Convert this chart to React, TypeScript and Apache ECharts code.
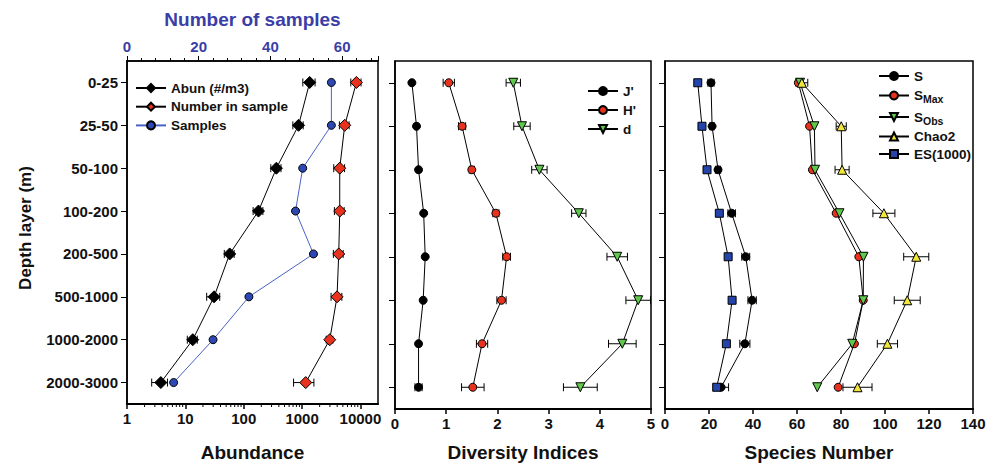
import React, { useEffect, useRef } from "react";
import * as echarts from "echarts";

const depthLayers = ["0-25", "25-50", "50-100", "100-200", "200-500", "500-1000", "1000-2000", "2000-3000"];

// Panel 1
const abundance = [1350, 870, 363, 179, 57.5, 31, 13.4, 3.8];
const abundanceErr = [320, 175, 72, 34, 11, 7.8, 2.6, 1.15];
const numberInSample = [8540, 5380, 4420, 4420, 4250, 3970, 2980, 1155];
const numberInSampleErr = [1700, 1020, 930, 840, 810, 830, 390, 440];
const samples = [57, 57, 49, 47, 52, 34, 24, 13];
const abundanceMinorTicks = [2, 3, 4, 5, 6, 7, 8, 9, 20, 30, 40, 50, 60, 70, 80, 90, 200, 300, 400, 500, 600, 700, 800, 900, 2000, 3000, 4000, 5000, 6000, 7000, 8000, 9000];

// Panel 2
const evenness = [0.33, 0.42, 0.46, 0.56, 0.59, 0.55, 0.46, 0.46];
const evennessErr = [0.02, 0.02, 0.02, 0.02, 0.02, 0.02, 0.02, 0.07];
const shannon = [1.05, 1.31, 1.5, 1.97, 2.18, 2.08, 1.7, 1.52];
const shannonErr = [0.11, 0.07, 0.05, 0.06, 0.075, 0.09, 0.11, 0.22];
const margalef = [2.31, 2.48, 2.82, 3.59, 4.34, 4.75, 4.44, 3.62];
const margalefErr = [0.14, 0.16, 0.15, 0.14, 0.2, 0.24, 0.27, 0.33];

// Panel 3
const speciesS = [20.9, 21.4, 24.1, 30.3, 36.7, 39.6, 36.3, 25.5];
const speciesSErr = [1.4, 1.0, 1.2, 1.7, 1.8, 1.9, 2.3, 3.4];
const sMax = [60.6, 65.7, 67.0, 77.8, 88.1, 90.1, 86.1, 78.7];
const sObs = [61.4, 67.9, 68.2, 79.3, 90.2, 90.1, 85.1, 69.2];
const chao2 = [62.2, 80.1, 80.5, 99.5, 114.2, 110.1, 101.1, 87.5];
const chao2Err = [2.7, 2.3, 3.2, 5.0, 5.7, 5.9, 4.6, 6.6];
const es1000 = [14.9, 16.8, 19.1, 24.7, 28.7, 30.5, 27.9, 23.5];

const FONT = "'Liberation Sans', Arial, Helvetica, sans-serif";
const INK = "#111";
const TITLE_BLUE = "#3a3ea6";
const RED = "#e8321e";
const GREEN = "#5ec94a";
const YELLOW = "#f2e63a";
const BLUE_DOT = "#2d48b5";
const BLUE_SQ = "#2444ab";

function errorSeries(xi: number, yi: number, vals: number[], errs: number[]) {
  return {
    type: "custom",
    xAxisIndex: xi,
    yAxisIndex: yi,
    silent: true,
    z: 1,
    encode: { x: 0, y: 1 },
    data: vals.map((v, i) => [v, i, errs[i]]),
    renderItem: (params: any, api: any) => {
      const v = api.value(0);
      const c = api.value(1);
      const e = api.value(2);
      const lo = api.coord([v - e, c]);
      const hi = api.coord([v + e, c]);
      const h = 4;
      const st = { stroke: "#000", lineWidth: 1 };
      return {
        type: "group",
        children: [
          { type: "line", shape: { x1: lo[0], y1: lo[1], x2: hi[0], y2: hi[1] }, style: st },
          { type: "line", shape: { x1: lo[0], y1: lo[1] - h, x2: lo[0], y2: lo[1] + h }, style: st },
          { type: "line", shape: { x1: hi[0], y1: hi[1] - h, x2: hi[0], y2: hi[1] + h }, style: st },
        ],
      };
    },
  };
}

function lineSeries(name: string, xi: number, yi: number, vals: number[], symbol: string, size: number, color: string, lineColor = "#000", rotate = 0) {
  return {
    name,
    type: "line",
    xAxisIndex: xi,
    yAxisIndex: yi,
    data: vals.map((v, i) => [v, i]),
    symbol,
    symbolSize: size,
    symbolRotate: rotate,
    showSymbol: true,
    z: 3,
    itemStyle: { color, borderColor: "#000", borderWidth: 1 },
    lineStyle: { color: lineColor, width: 1 },
  };
}

const axisLabelStyle = { fontSize: 15, fontWeight: "bold" as const, color: INK, fontFamily: FONT };

function bottomAxis(gridIndex: number, extra: any) {
  return {
    gridIndex,
    position: "bottom",
    nameLocation: "middle",
    nameTextStyle: { fontSize: 19, fontWeight: "bold", color: INK, fontFamily: FONT },
    axisLine: { show: true, onZero: false, lineStyle: { color: "#000", width: 2 } },
    axisTick: { show: true, inside: false, length: 5, lineStyle: { color: "#000", width: 1.5 } },
    axisLabel: { ...axisLabelStyle, margin: 7 },
    splitLine: { show: false },
    ...extra,
  };
}

function catAxis(gridIndex: number, showLabels: boolean) {
  return {
    type: "category",
    gridIndex,
    inverse: true,
    data: depthLayers,
    boundaryGap: true,
    axisLine: { show: true, lineStyle: { color: "#000", width: 1.5 } },
    axisTick: { show: true, alignWithLabel: true, inside: false, length: 6, lineStyle: { color: "#000", width: 1 } },
    axisLabel: { show: showLabels, ...axisLabelStyle, margin: 9 },
    splitLine: { show: false },
  };
}

const legendBase = {
  orient: "vertical",
  itemWidth: 30,
  itemHeight: 10,
  padding: 0,
  textStyle: { fontSize: 13.5, fontWeight: "bold", color: INK, fontFamily: FONT, lineHeight: 14 },
};

export default function App() {
  const ref = useRef<HTMLDivElement>(null);
  useEffect(() => {
    if (!ref.current) return;
    const chart = echarts.init(ref.current, null, { renderer: "svg" });
    const gridBox = { show: true, borderColor: "#000", borderWidth: 1.5, containLabel: false };
    const option: any = {
      animation: false,
      backgroundColor: "#fff",
      textStyle: { fontFamily: FONT },
      grid: [
        { ...gridBox, left: 127, top: 61, width: 251, height: 348 },
        { ...gridBox, left: 395, top: 61, width: 256, height: 348 },
        { ...gridBox, left: 665, top: 61, width: 308, height: 348 },
      ],
      xAxis: [
        bottomAxis(0, {
          type: "log",
          logBase: 10,
          min: 1,
          max: 20000,
          name: "Abundance",
          nameGap: 39,
          axisLabel: { ...axisLabelStyle, margin: 7, showMaxLabel: false, formatter: (v: number) => String(Math.round(v)) },
        }),
        {
          type: "value",
          gridIndex: 0,
          position: "top",
          min: 0,
          max: 70,
          interval: 20,
          name: "Number of samples",
          nameLocation: "middle",
          nameGap: 32,
          nameTextStyle: { fontSize: 19, fontWeight: "bold", color: TITLE_BLUE, fontFamily: FONT },
          axisLine: { show: true, onZero: false, lineStyle: { color: "#000", width: 1.5 } },
          axisTick: { show: true, inside: false, length: 5, lineStyle: { color: "#000", width: 1 } },
          minorTick: { show: true, splitNumber: 5, length: 3, lineStyle: { color: "#000", width: 1 } },
          axisLabel: { ...axisLabelStyle, color: TITLE_BLUE, margin: 7, showMaxLabel: false },
          splitLine: { show: false },
          minorSplitLine: { show: false },
        },
        bottomAxis(1, { type: "value", min: 0, max: 5, interval: 1, name: "Diversity Indices", nameGap: 34 }),
        bottomAxis(2, { type: "value", min: 0, max: 140, interval: 20, name: "Species Number", nameGap: 34 }),
      ],
      yAxis: [catAxis(0, true), catAxis(1, false), catAxis(2, false)],
      legend: [
        {
          ...legendBase,
          left: 135,
          top: 81,
          itemGap: 4.7,
          data: ["Abun (#/m3)", "Number in sample", "Samples"],
        },
        {
          ...legendBase,
          left: 587,
          top: 84,
          itemGap: 5,
          data: ["J'", "H'", "d"],
        },
        {
          ...legendBase,
          left: 878,
          top: 69,
          itemGap: 3.5,
          data: ["S", "SMax", "SObs", "Chao2", "ES(1000)"],
          formatter: (name: string) => {
            if (name === "SMax") return "{b|S}{sub|Max}";
            if (name === "SObs") return "{b|S}{sub|Obs}";
            return name;
          },
          textStyle: {
            ...legendBase.textStyle,
            rich: {
              b: { fontSize: 13.5, fontWeight: "bold", color: INK, fontFamily: FONT, lineHeight: 18 },
              sub: { fontSize: 10.5, fontWeight: "bold", color: INK, fontFamily: FONT, lineHeight: 10, verticalAlign: "bottom" },
            },
          },
        },
      ],
      graphic: [
        {
          type: "text",
          x: 25,
          y: 228,
          rotation: Math.PI / 2,
          style: {
            text: "Depth layer (m)",
            fontSize: 17,
            fontWeight: "bold",
            fill: INK,
            fontFamily: FONT,
            align: "center",
            verticalAlign: "middle",
          },
        },
      ],
      series: [
        {
          type: "custom",
          xAxisIndex: 0,
          yAxisIndex: 0,
          silent: true,
          encode: { x: 0, y: 1 },
          data: abundanceMinorTicks.map((v) => [v, 0]),
          renderItem: (params: any, api: any) => {
            const x = api.coord([api.value(0), 0])[0];
            const yb = params.coordSys.y + params.coordSys.height;
            return { type: "line", shape: { x1: x, y1: yb, x2: x, y2: yb + 3 }, style: { stroke: "#000", lineWidth: 1 } };
          },
        },
        errorSeries(0, 0, abundance, abundanceErr),
        errorSeries(0, 0, numberInSample, numberInSampleErr),
        lineSeries("Abun (#/m3)", 0, 0, abundance, "diamond", 12, "#000"),
        lineSeries("Number in sample", 0, 0, numberInSample, "diamond", 12, RED),
        lineSeries("Samples", 1, 0, samples, "circle", 8, BLUE_DOT, "#4a62c8"),

        errorSeries(2, 1, evenness, evennessErr),
        errorSeries(2, 1, shannon, shannonErr),
        errorSeries(2, 1, margalef, margalefErr),
        lineSeries("J'", 2, 1, evenness, "circle", 8, "#000"),
        lineSeries("H'", 2, 1, shannon, "circle", 8, RED),
        lineSeries("d", 2, 1, margalef, "triangle", 9, GREEN, "#000", 180),

        errorSeries(3, 2, speciesS, speciesSErr),
        errorSeries(3, 2, chao2, chao2Err),
        lineSeries("S", 3, 2, speciesS, "circle", 8, "#000"),
        lineSeries("SMax", 3, 2, sMax, "circle", 8, RED),
        lineSeries("SObs", 3, 2, sObs, "triangle", 9, GREEN, "#000", 180),
        lineSeries("Chao2", 3, 2, chao2, "triangle", 9, YELLOW),
        lineSeries("ES(1000)", 3, 2, es1000, "rect", 8, BLUE_SQ),
      ],
    };
    chart.setOption(option);
    return () => chart.dispose();
  }, []);
  return <div ref={ref} style={{ position: "fixed", left: 0, top: 0, width: 995, height: 467, background: "#fff" }} />;
}
